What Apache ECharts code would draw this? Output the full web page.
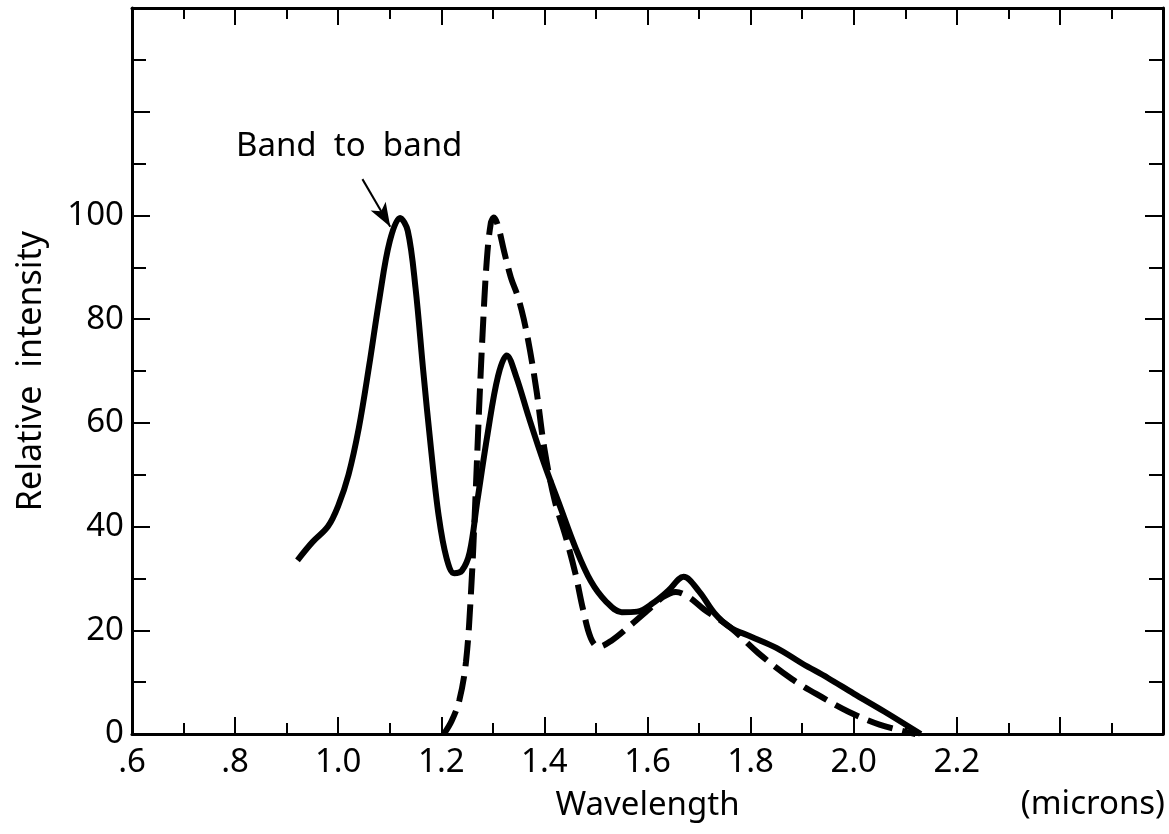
<!DOCTYPE html>
<html>
<head>
<meta charset="utf-8">
<script src="https://cdn.jsdelivr.net/npm/echarts@6/dist/echarts.min.js"></script>
<style>
  html, body { margin: 0; padding: 0; background: #fff; }
  #chart { width: 1169px; height: 834px; }
</style>
</head>
<body>
<div id="chart"></div>
<script>
// solid curve (wavelength in microns, relative intensity)
var solidX = [0.921, 0.95, 0.98, 1.0, 1.02, 1.04, 1.06, 1.08, 1.10, 1.12, 1.135, 1.15, 1.165, 1.18, 1.195, 1.21, 1.225, 1.24, 1.255, 1.27, 1.29, 1.31, 1.327, 1.345, 1.37, 1.40, 1.43, 1.46, 1.49, 1.52, 1.55, 1.58, 1.61, 1.64, 1.67, 1.70, 1.73, 1.76, 1.80, 1.85, 1.90, 1.95, 2.0, 2.06, 2.13];
var solidY = [33.5, 37, 40, 44, 50, 59, 71, 84, 95, 99.5, 97, 86, 70, 55, 42, 34, 31, 31.5, 35, 45, 58, 69, 73, 69, 61, 52, 44, 36, 29.5, 25.5, 23.5, 23.6, 25.2, 27.6, 30.3, 27.5, 23.3, 20.6, 18.8, 16.6, 13.6, 10.8, 7.8, 4.3, 0];

// dashed curve
var dashX = [1.205, 1.22, 1.235, 1.248, 1.258, 1.266, 1.273, 1.28, 1.288, 1.296, 1.302, 1.31, 1.322, 1.335, 1.348, 1.36, 1.372, 1.385, 1.40, 1.42, 1.44, 1.46, 1.475, 1.49, 1.505, 1.53, 1.565, 1.60, 1.63, 1.655, 1.68, 1.71, 1.76, 1.815, 1.88, 1.94, 1.99, 2.05, 2.12];
var dashY = [0, 2.5, 6.5, 14, 28, 45, 62, 77, 91, 98.5, 99.6, 98, 93, 88, 84.5, 80, 74, 66, 55, 45, 38.5, 31, 24, 18.5, 16.8, 18, 20.8, 23.8, 26.4, 27.4, 26.4, 24, 20.6, 15.6, 10.6, 7, 4.3, 1.8, 0];

// arrow for the "Band to band" note
var arrowFrom = [1.047, 107];
var arrowTo = [1.101, 97.8];

var fontName = '"Noto Sans", "DejaVu Sans", sans-serif';

function pairs(xs, ys) {
  var out = [];
  for (var i = 0; i < xs.length; i++) out.push([xs[i], ys[i]]);
  return out;
}

function xLabel(v) {
  if (v > 2.25) return '';
  var s = v.toFixed(1);
  if (v < 1) s = s.substring(1);
  return s;
}

function yLabel(v) {
  return v > 100 ? '' : String(v);
}

var axisLine = { show: true, onZero: false, lineStyle: { color: '#000', width: 3 } };

function xAxisOpt(pos, labels) {
  return {
    type: 'value', position: pos, min: 0.6, max: 2.6, interval: 0.2,
    axisLine: axisLine,
    axisTick: { show: true, inside: true, length: 17, lineStyle: { color: '#000', width: 2 } },
    minorTick: { show: true, splitNumber: 2, length: 11, lineStyle: { color: '#000', width: 2 } },
    axisLabel: labels ? { show: true, formatter: xLabel, color: '#000', fontSize: 33, fontFamily: fontName, margin: 12 } : { show: false },
    splitLine: { show: false }
  };
}

function yAxisOpt(pos, labels) {
  return {
    type: 'value', position: pos, min: 0, max: 140, interval: 20,
    axisLine: axisLine,
    axisTick: { show: true, inside: true, length: 18, lineStyle: { color: '#000', width: 2 } },
    minorTick: { show: true, splitNumber: 2, length: 14, lineStyle: { color: '#000', width: 2 } },
    axisLabel: labels ? { show: true, formatter: yLabel, color: '#000', fontSize: 33, fontFamily: fontName, margin: 8 } : { show: false },
    splitLine: { show: false }
  };
}

var xBottom = xAxisOpt('bottom', true);
xBottom.name = 'Wavelength';
xBottom.nameLocation = 'middle';
xBottom.nameGap = 55;
xBottom.nameTextStyle = { color: '#000', fontSize: 33, fontFamily: fontName };

var yLeft = yAxisOpt('left', true);
yLeft.name = 'Relative  intensity';
yLeft.nameLocation = 'middle';
yLeft.nameGap = 84;
yLeft.nameTextStyle = { color: '#000', fontSize: 34, fontFamily: fontName };

var chart = echarts.init(document.getElementById('chart'));
chart.setOption({
  backgroundColor: '#fff',
  animation: false,
  grid: { left: 132, right: 6, top: 8, bottom: 100 },
  xAxis: [xBottom, xAxisOpt('top', false)],
  yAxis: [yLeft, yAxisOpt('right', false)],
  series: [
    {
      type: 'line',
      data: pairs(solidX, solidY),
      smooth: 0.35,
      showSymbol: false,
      lineStyle: { color: '#000', width: 6 },
      markLine: {
        silent: true,
        symbol: ['none', 'arrow'],
        symbolSize: [13, 24],
        label: { show: false },
        lineStyle: { color: '#000', width: 2, type: 'solid' },
        data: [[{ coord: arrowFrom }, { coord: arrowTo }]]
      }
    },
    {
      type: 'line',
      data: pairs(dashX, dashY),
      smooth: 0.35,
      showSymbol: false,
      lineStyle: { color: '#000', width: 6, type: [26, 10] }
    }
  ],
  graphic: [
    {
      type: 'text', left: 236, top: 130,
      style: { text: 'Band  to  band', fill: '#000', fontSize: 33, fontFamily: fontName }
    },
    {
      type: 'text', right: 4, top: 788,
      style: { text: '(microns)', fill: '#000', fontSize: 33, fontFamily: fontName }
    }
  ]
});
</script>
</body>
</html>
